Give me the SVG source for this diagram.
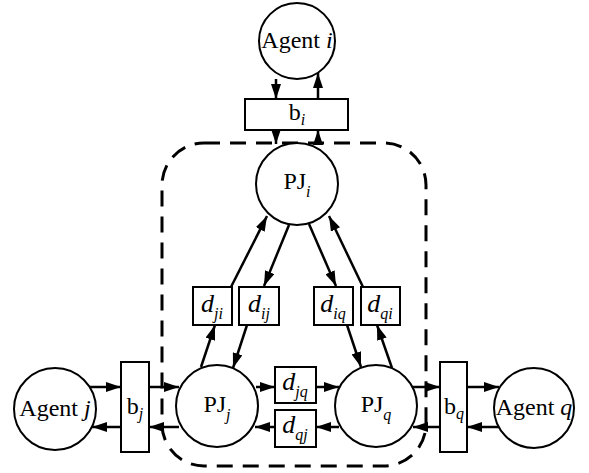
<svg xmlns="http://www.w3.org/2000/svg" width="589" height="473" viewBox="0 0 589 473">
<style>
.n{fill:#fff;stroke:#000;stroke-width:2}
.t{font-family:"Liberation Serif","Times New Roman",serif;font-size:24px;fill:#000;text-anchor:middle}
.d{font-family:"Liberation Serif","Times New Roman",serif;font-size:26px;fill:#000;text-anchor:middle;font-style:italic}
.s{font-size:16px;font-style:italic}
.c{stroke:#000;stroke-width:2.5;fill:none;marker-end:url(#ah)}
</style>
<defs>
<marker id="ah" viewBox="0 0 15 10" refX="15" refY="5" markerWidth="15" markerHeight="10" orient="auto" markerUnits="userSpaceOnUse"><path d="M0,0 L15,5 L0,10 z" fill="#000"/></marker>
</defs>
<rect id="group" x="162" y="143" width="264" height="323" rx="42" fill="none" stroke="#000" stroke-width="3" stroke-dasharray="16 10"/>
<g id="connectors">
<line class="c" x1="276" y1="79" x2="276" y2="99"/>
<line class="c" x1="318" y1="99" x2="318" y2="73"/>
<line class="c" x1="276" y1="130" x2="276" y2="144"/>
<line class="c" x1="318" y1="144" x2="318" y2="130"/>
<line class="c" x1="231" y1="287" x2="267" y2="216"/>
<line class="c" x1="289" y1="225" x2="264" y2="286"/>
<line class="c" x1="309" y1="224" x2="336" y2="286"/>
<line class="c" x1="363" y1="287" x2="329" y2="216"/>
<line class="c" x1="201" y1="367" x2="215" y2="325"/>
<line class="c" x1="247" y1="325" x2="233" y2="368"/>
<line class="c" x1="347" y1="325" x2="361" y2="367"/>
<line class="c" x1="392" y1="368" x2="377" y2="325"/>
<line class="c" x1="90" y1="387" x2="121" y2="387"/>
<line class="c" x1="121" y1="427" x2="92" y2="427"/>
<line class="c" x1="149" y1="387" x2="179" y2="387"/>
<line class="c" x1="179" y1="427" x2="149" y2="427"/>
<line class="c" x1="256" y1="387" x2="275" y2="387"/>
<line class="c" x1="275" y1="427" x2="255" y2="427"/>
<line class="c" x1="316" y1="387" x2="339" y2="387"/>
<line class="c" x1="339" y1="427" x2="316" y2="427"/>
<line class="c" x1="412" y1="387" x2="440" y2="387"/>
<line class="c" x1="440" y1="427" x2="413" y2="427"/>
<line class="c" x1="467" y1="387" x2="499" y2="387"/>
<line class="c" x1="499" y1="427" x2="467" y2="427"/>
</g>
<g id="agent_i"><circle class="n" cx="297" cy="41" r="38"/><text class="t" x="297" y="48">Agent <tspan font-style="italic">i</tspan></text></g>
<g id="b_i"><rect class="n" x="245" y="99" width="103" height="31"/><text class="t" x="297" y="120" font-size="20">b<tspan class="s" dy="5">i</tspan></text></g>
<g id="PJ_i"><circle class="n" cx="297" cy="184" r="41"/><text class="t" x="297" y="189">PJ<tspan class="s" dy="8">i</tspan></text></g>
<g id="d_ji"><rect class="n" x="193" y="287" width="39" height="38"/><text class="d" x="212" y="312">d<tspan class="s" dy="7">ji</tspan></text></g>
<g id="d_ij"><rect class="n" x="239" y="287" width="40" height="38"/><text class="d" x="259" y="312">d<tspan class="s" dy="7">ij</tspan></text></g>
<g id="d_iq"><rect class="n" x="314" y="287" width="39" height="38"/><text class="d" x="333" y="312">d<tspan class="s" dy="7">iq</tspan></text></g>
<g id="d_qi"><rect class="n" x="361" y="287" width="39" height="38"/><text class="d" x="380" y="312">d<tspan class="s" dy="7">qi</tspan></text></g>
<g id="agent_j"><circle class="n" cx="55" cy="409" r="41"/><text class="t" x="55" y="416">Agent <tspan font-style="italic">j</tspan></text></g>
<g id="b_j"><rect class="n" x="121" y="362" width="28" height="90"/><text class="t" x="135" y="414" font-size="20">b<tspan class="s" dy="5">j</tspan></text></g>
<g id="PJ_j"><circle class="n" cx="217" cy="406" r="41"/><text class="t" x="217" y="412">PJ<tspan class="s" dy="8">j</tspan></text></g>
<g id="d_jq"><rect class="n" x="275" y="367" width="41" height="36"/><text class="d" x="295" y="390">d<tspan class="s" dy="7">jq</tspan></text></g>
<g id="d_qj"><rect class="n" x="275" y="410" width="41" height="37"/><text class="d" x="295" y="433">d<tspan class="s" dy="7">qj</tspan></text></g>
<g id="PJ_q"><circle class="n" cx="376" cy="406" r="41"/><text class="t" x="376" y="412">PJ<tspan class="s" dy="8">q</tspan></text></g>
<g id="b_q"><rect class="n" x="440" y="362" width="27" height="90"/><text class="t" x="454" y="414" font-size="20">b<tspan class="s" dy="5">q</tspan></text></g>
<g id="agent_q"><circle class="n" cx="534" cy="408" r="40"/><text class="t" x="534" y="415">Agent <tspan font-style="italic">q</tspan></text></g>
</svg>
